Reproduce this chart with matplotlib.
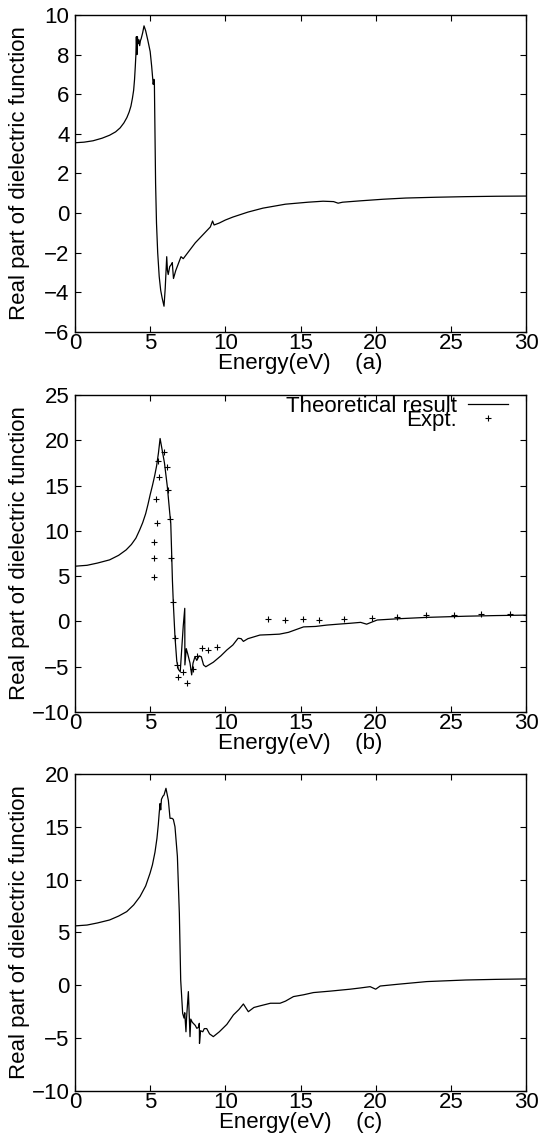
import matplotlib
matplotlib.use("Agg")
import matplotlib.pyplot as plt
from matplotlib.ticker import MultipleLocator

plt.rcParams['font.family'] = ['Liberation Sans', 'DejaVu Sans']
plt.rcParams['font.size'] = 16

# panel (a) - theory
energy_a = [0, 0.6, 1.2, 1.8, 2.3, 2.7, 3.0, 3.25, 3.45, 3.6, 3.72,
            3.82, 3.9, 3.96, 4.01, 4.05, 4.08, 4.12, 4.15, 4.2, 4.25, 4.3,
            4.35, 4.4, 4.5, 4.59, 4.7, 4.85, 5.0, 5.1, 5.2, 5.25,
            5.28, 5.32, 5.36, 5.42, 5.5, 5.6, 5.7, 5.8, 5.92, 6.0,
            6.1, 6.15, 6.2, 6.3, 6.4, 6.47, 6.55, 6.7, 6.9, 7.05,
            7.2, 7.5, 8.0, 8.5, 9.0, 9.15, 9.25, 9.6, 10.0, 10.5,
            11.5, 12.5, 14.0, 15.5, 16.5, 17.2, 17.5, 17.8, 19.0, 20.5,
            22.0, 24.0, 26.0, 28.0, 30.0]
eps_a = [3.55, 3.58, 3.65, 3.78, 3.93, 4.1, 4.3, 4.55, 4.82, 5.1, 5.4,
         5.8, 6.2, 6.75, 7.4, 8.0, 8.9, 8.0, 8.9, 8.55, 8.75, 8.45,
         8.7, 8.8, 9.1, 9.45, 9.2, 8.7, 8.15, 7.4, 6.5, 6.75,
         6.55, 4.0, 1.5, -0.5, -2.0, -3.2, -3.9, -4.3, -4.7, -3.8,
         -2.2, -2.9, -3.1, -2.7, -2.6, -2.5, -3.3, -2.9, -2.5, -2.2,
         -2.3, -2.0, -1.5, -1.1, -0.7, -0.4, -0.6, -0.5, -0.35, -0.2,
         0.05, 0.25, 0.45, 0.55, 0.6, 0.58, 0.5, 0.55, 0.62, 0.7,
         0.76, 0.8, 0.83, 0.85, 0.86]

# panel (b) - theory + experiment
energy_b = [0, 0.8, 1.5, 2.3, 2.9, 3.4, 3.75, 4.05, 4.3, 4.5, 4.7, 4.85,
            5.0, 5.15, 5.3, 5.43, 5.55, 5.66, 5.8, 5.95, 6.14, 6.3, 6.37, 6.42,
            6.48, 6.54, 6.65, 6.77, 6.88, 7.0, 7.1, 7.2, 7.3, 7.31,
            7.4, 7.5, 7.65, 7.76, 7.85, 7.98, 8.1, 8.25, 8.4, 8.55,
            8.7, 9.2, 9.7, 10.1, 10.5, 10.85, 11.05, 11.2, 11.5, 12.3,
            13.0, 13.6, 14.2, 15.2, 16.0, 16.75, 17.5, 18.3, 19.0, 19.4,
            19.7, 20.1, 21.5, 23.4, 26.0, 28.0, 30.0]
eps_b = [6.1, 6.2, 6.45, 6.8, 7.3, 7.9, 8.5, 9.2, 10.1, 10.9, 11.9, 12.9,
         14.0, 15.0, 16.1, 17.2, 18.6, 20.2, 18.9, 17.5, 14.9, 12.0, 10.8, 8.0,
         4.5, 2.0, -1.7, -4.4, -5.3, -5.55, -3.0, -0.5, 1.45, -4.8,
         -3.0, -3.6, -4.6, -5.9, -4.6, -3.9, -4.3, -3.8, -3.9, -4.8,
         -5.0, -4.5, -3.8, -3.15, -2.6, -1.85, -1.9, -2.2, -1.9, -1.5,
         -1.45, -1.4, -1.2, -0.6, -0.55, -0.4, -0.3, -0.2, -0.1, -0.3,
         -0.1, 0.16, 0.3, 0.45, 0.58, 0.65, 0.7]
expt_energy = [5.26, 5.26, 5.28, 5.43, 5.39, 5.57, 5.54, 5.92, 6.1, 6.19,
               6.32, 6.37, 6.54, 6.67, 6.77, 6.87, 7.2, 7.45, 7.83, 8.1,
               8.43, 8.87, 9.47, 12.86, 13.97, 15.15, 16.24, 17.92, 19.74, 21.4,
               23.33, 25.2, 27.0, 28.94, 30.0]
expt_eps = [4.94, 6.97, 8.8, 10.83, 13.48, 15.9, 17.7, 18.67, 17.0, 14.55,
            11.35, 6.97, 2.18, -1.86, -4.8, -6.17, -5.6, -6.8, -5.2, -3.8,
            -2.9, -3.2, -2.8, 0.23, 0.16, 0.23, 0.16, 0.23, 0.38, 0.53,
            0.74, 0.66, 0.77, 0.8, 0.7]

# panel (c) - theory
energy_c = [0, 0.8, 1.5, 2.3, 2.9, 3.44, 3.9, 4.32, 4.7, 4.99,
            5.15, 5.32, 5.45, 5.54, 5.6, 5.66, 5.7, 5.75, 5.85, 5.92, 6.05, 6.21, 6.32,
            6.45, 6.54, 6.65, 6.81, 6.94, 7.03, 7.16, 7.25, 7.3, 7.38,
            7.42, 7.54, 7.65, 7.7, 7.8, 8.0, 8.1, 8.2, 8.27, 8.28,
            8.35, 8.5, 8.6, 8.76, 8.95, 9.2, 9.6, 10.1, 10.54, 10.9,
            11.2, 11.53, 11.9, 12.3, 13.0, 13.64, 14.0, 14.53, 15.2, 15.86,
            17.0, 18.3, 19.0, 19.63, 20.0, 20.3, 21.5, 23.4, 26.0, 28.0,
            30.0]
eps_c = [5.62, 5.7, 5.9, 6.18, 6.55, 6.97, 7.6, 8.39, 9.4, 10.6,
         11.4, 12.6, 13.9, 15.2, 16.3, 17.2, 16.6, 17.6, 17.9, 18.0, 18.64, 17.5, 15.8,
         15.8, 15.7, 15.0, 12.2, 6.8, 0.5, -2.65, -3.1, -2.6, -4.4,
         -3.1, -0.6, -4.86, -3.2, -3.5, -3.8, -4.07, -4.0, -3.6, -5.5,
         -4.3, -4.4, -4.1, -4.1, -4.6, -4.86, -4.4, -3.7, -2.8, -2.3,
         -1.77, -2.5, -2.1, -1.95, -1.7, -1.7, -1.5, -1.07, -0.9, -0.69,
         -0.55, -0.37, -0.25, -0.13, -0.37, -0.07, 0.1, 0.35, 0.5, 0.56,
         0.6]

panels = [
    ("(a)", energy_a, eps_a, (-6, 10), 2, [0.1384, 0.7093, 0.8321, 0.2776]),
    ("(b)", energy_b, eps_b, (-10, 25), 5, [0.1384, 0.3765, 0.8321, 0.2776]),
    ("(c)", energy_c, eps_c, (-10, 20), 5, [0.1384, 0.0447, 0.8321, 0.2776]),
]

fig = plt.figure(figsize=(5.42, 11.42), dpi=100)

for tag, xs, ys, ylim, ystep, rect in panels:
    ax = fig.add_axes(rect)
    ax.plot(xs, ys, color='black', lw=0.9, label='Theoretical result')
    if tag == "(b)":
        ax.plot(expt_energy, expt_eps, ls='none', marker='+', ms=5, mew=0.8,
                color='black', label='Expt.')
        # gnuplot-like key: text right aligned, sample on the right
        ax.legend(loc='upper right', markerfirst=False, frameon=False,
                  bbox_to_anchor=(1 - 18 / 451, 0.997), borderaxespad=0,
                  borderpad=0, handlelength=1.8, handletextpad=0.5,
                  labelspacing=-0.33, fontsize=16)
    ax.set_xlim(0, 30)
    ax.set_ylim(*ylim)
    ax.xaxis.set_major_locator(MultipleLocator(5))
    ax.yaxis.set_major_locator(MultipleLocator(ystep))
    ax.tick_params(direction='in', top=True, right=True, length=4, width=0.8,
                   labelsize=16)
    ax.tick_params(axis='x', pad=1)
    ax.tick_params(axis='y', pad=4)
    for s in ax.spines.values():
        s.set_linewidth(1.0)
    ax.set_xlabel("Energy(eV)    " + tag, labelpad=-1)
    ax.set_ylabel("Real part of dielectric function")
    ax.yaxis.set_label_coords(-0.1, 0.5)

fig.savefig("out.png", dpi=100)
